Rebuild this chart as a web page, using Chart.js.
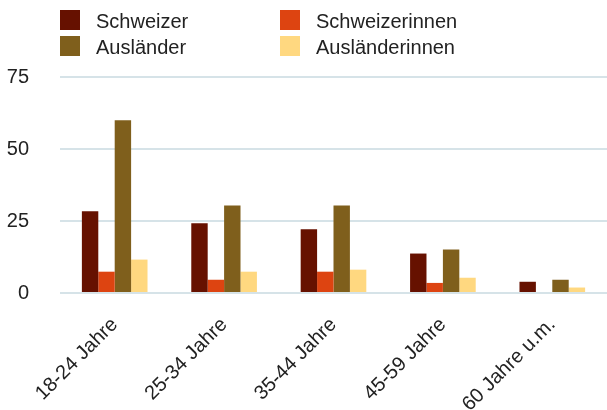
<!DOCTYPE html>
<html>
<head>
<meta charset="utf-8">
<script src="https://cdn.jsdelivr.net/npm/chart.js@4"></script>
<style>
  body { margin: 0; background: #fff; }
  #wrap { position: relative; width: 607px; height: 410px; }
  #legend { position: absolute; left: 60px; top: 10px; font: 20px "Liberation Sans", Arial, sans-serif; color: #222; }
  .item { position: absolute; white-space: nowrap; }
  .box { position: absolute; left: 0; top: 0; width: 20px; height: 20px; }
  .lbl { position: absolute; left: 36px; top: 1px; line-height: 20px; }
</style>
</head>
<body>
<div id="wrap">
  <canvas id="chart" width="607" height="410"></canvas>
  <div id="legend"></div>
</div>
<script>
var categories = ["18-24 Jahre", "25-34 Jahre", "35-44 Jahre", "45-59 Jahre", "60 Jahre u.m."];
var seriesNames = ["Schweizer", "Schweizerinnen", "Ausländer", "Ausländerinnen"];
var schweizer = [28.4, 24.2, 22.1, 13.7, 3.9];
var schweizerinnen = [7.4, 4.6, 7.4, 3.5, null];
var auslaender = [60, 30.4, 30.4, 15.1, 4.6];
var auslaenderinnen = [11.6, 7.4, 8.1, 5.3, 1.9];
var colors = ["#661100", "#DD4411", "#7F5F1C", "#FFD880"];
var yTicks = [0, 25, 50, 75];

var values = [schweizer, schweizerinnen, auslaender, auslaenderinnen];
var datasets = [];
for (var i = 0; i < seriesNames.length; i++) {
  datasets.push({
    label: seriesNames[i],
    data: values[i],
    backgroundColor: colors[i],
    borderWidth: 0,
    categoryPercentage: 0.6,
    barPercentage: 1.0
  });
}

// legend as 2x2 grid
var legend = document.getElementById("legend");
var pos = [[0, 0], [220, 0], [0, 26], [220, 26]];
for (var i = 0; i < seriesNames.length; i++) {
  var it = document.createElement("div");
  it.className = "item";
  it.style.left = pos[i][0] + "px";
  it.style.top = pos[i][1] + "px";
  it.innerHTML = '<span class="box" style="background:' + colors[i] + '"></span><span class="lbl">' + seriesNames[i] + '</span>';
  legend.appendChild(it);
}

Chart.defaults.font.family = '"Liberation Sans", Arial, sans-serif';
Chart.defaults.color = "#222";

new Chart(document.getElementById("chart"), {
  type: "bar",
  data: { labels: categories, datasets: datasets },
  options: {
    responsive: false,
    animation: false,
    layout: { padding: { top: 77, right: 0, left: 0, bottom: 0 } },
    plugins: { legend: { display: false }, tooltip: { enabled: false } },
    scales: {
      x: {
        afterFit: function (axis) { axis.height = 117; },
        grid: { display: false, drawTicks: false },
        border: { display: false },
        ticks: { font: { size: 20 }, minRotation: 45, maxRotation: 45, padding: 20 }
      },
      y: {
        min: 0,
        max: 75,
        afterBuildTicks: function (axis) {
          axis.ticks = yTicks.map(function (v) { return { value: v }; });
        },
        afterFit: function (axis) { axis.width = 60; },
        grid: { color: "#D6E3E8", lineWidth: 2, drawTicks: false },
        border: { display: false },
        ticks: { font: { size: 20 }, padding: 31 }
      }
    }
  }
});
</script>
</body>
</html>
